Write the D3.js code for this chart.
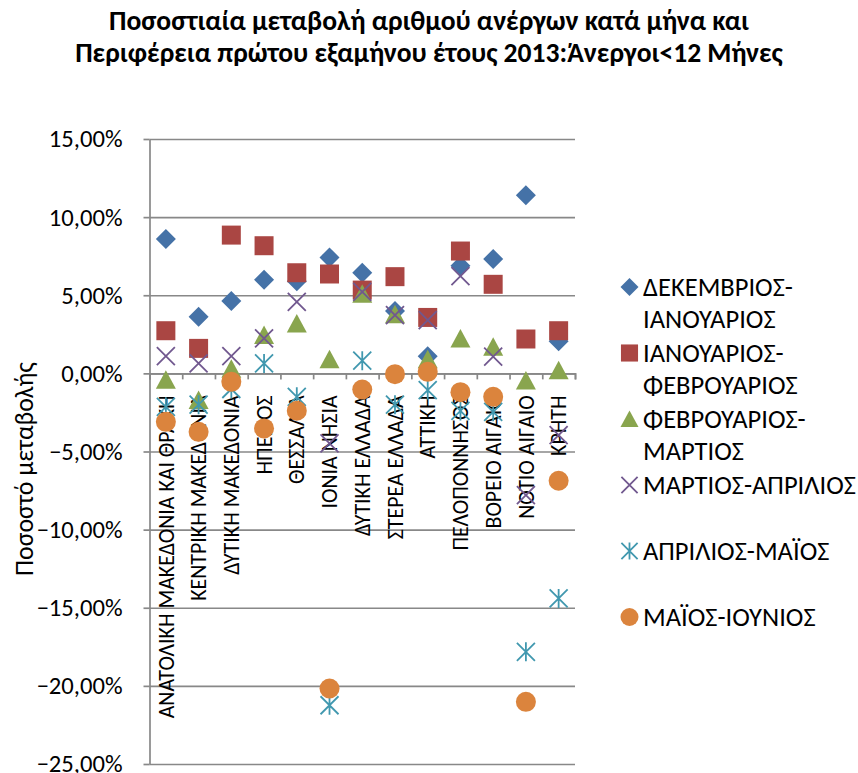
<!DOCTYPE html>
<html><head><meta charset="utf-8">
<script src="https://cdn.jsdelivr.net/npm/d3@7"></script>
<style>
html,body{margin:0;padding:0;background:#fff;}
text{font-family:Carlito,Calibri,"Noto Sans",sans-serif;fill:#000;}
</style></head>
<body>
<svg id="chart" width="858" height="773"></svg>
<script>
// ---- data ----
const titleLines = ["Ποσοστιαία μεταβολή αριθμού ανέργων κατά μήνα και", "Περιφέρεια πρώτου εξαμήνου έτους 2013:Άνεργοι<12 Μήνες"];
const yAxisTitle = "Ποσοστό μεταβολής";
const categories = ["ΑΝΑΤΟΛΙΚΗ ΜΑΚΕΔΟΝΙΑ ΚΑΙ ΘΡΑΚΗ","ΚΕΝΤΡΙΚΗ ΜΑΚΕΔΟΝΙΑ","ΔΥΤΙΚΗ ΜΑΚΕΔΟΝΙΑ","ΗΠΕΙΡΟΣ","ΘΕΣΣΑΛΙΑ","ΙΟΝΙΑ ΝΗΣΙΑ","ΔΥΤΙΚΗ ΕΛΛΑΔΑ","ΣΤΕΡΕΑ ΕΛΛΑΔΑ","ΑΤΤΙΚΗ","ΠΕΛΟΠΟΝΝΗΣΟΣ","ΒΟΡΕΙΟ ΑΙΓΑΙΟ","ΝΟΤΙΟ ΑΙΓΑΙΟ","ΚΡΗΤΗ"];
const seriesNames = ["ΔΕΚΕΜΒΡΙΟΣ-ΙΑΝΟΥΑΡΙΟΣ","ΙΑΝΟΥΑΡΙΟΣ-ΦΕΒΡΟΥΑΡΙΟΣ","ΦΕΒΡΟΥΑΡΙΟΣ-ΜΑΡΤΙΟΣ","ΜΑΡΤΙΟΣ-ΑΠΡΙΛΙΟΣ","ΑΠΡΙΛΙΟΣ-ΜΑΪΟΣ","ΜΑΪΟΣ-ΙΟΥΝΙΟΣ"];
const legendLines = [["ΔΕΚΕΜΒΡΙΟΣ-","ΙΑΝΟΥΑΡΙΟΣ"],["ΙΑΝΟΥΑΡΙΟΣ-","ΦΕΒΡΟΥΑΡΙΟΣ"],["ΦΕΒΡΟΥΑΡΙΟΣ-","ΜΑΡΤΙΟΣ"],["ΜΑΡΤΙΟΣ-ΑΠΡΙΛΙΟΣ"],["ΑΠΡΙΛΙΟΣ-ΜΑΪΟΣ"],["ΜΑΪΟΣ-ΙΟΥΝΙΟΣ"]];
const decJan = [8.60, 3.62, 4.63, 6.00, 5.90, 7.42, 6.44, 3.99, 1.10, 6.89, 7.32, 11.40, 2.05];
const janFeb = [2.73, 1.60, 8.85, 8.17, 6.44, 6.36, 5.33, 6.19, 3.58, 7.83, 5.70, 2.20, 2.73];
const febMar = [-0.40, -1.70, 0.30, 2.45, 3.20, 0.90, 5.10, 3.78, 0.90, 2.24, 1.70, -0.45, 0.20];
const marApr = [1.10, 0.64, 1.10, 2.24, 4.58, -4.48, 5.22, 3.73, 3.41, 6.23, 1.07, -7.79, -3.95];
const aprMay = [-2.14, -2.00, -1.00, 0.64, -1.50, -21.24, 0.81, -2.00, -1.07, -2.40, -2.46, -17.82, -14.40];
const mayJun = [-3.10, -3.74, -0.54, -3.52, -2.39, -20.17, -1.03, -0.05, 0.10, -1.20, -1.50, -21.02, -6.87];
const yTicks = [-25, -20, -15, -10, -5, 0, 5, 10, 15];
const seriesValues = [decJan, janFeb, febMar, marApr, aprMay, mayJun];

// ---- styles ----
const colors = ["#4572A7", "#AA4643", "#89A54E", "#71588F", "#4198AF", "#DB843D"];
const shapes = ["diamond", "square", "triangle", "x", "star", "circle"];
const gridColor = "#888888";

const svg = d3.select("#chart");
const M = {left: 149.5, right: 575, top: 139, bottom: 764};
const x = d3.scaleBand().domain(categories).range([M.left, M.right]).padding(0);
const xi = d3.scaleLinear().domain([0, categories.length]).range([M.left, M.right]);
const y = d3.scaleLinear().domain([-25, 15]).range([M.bottom, M.top]);
const loc = d3.formatLocale({decimal: ",", thousands: ".", grouping: [3], currency: ["", "€"]});
const fmt = v => loc.format(".2f")(v) + "%";

function fitGroup(sel, refNode, target) {
  const w = refNode.getComputedTextLength();
  const fs = parseFloat(d3.select(refNode).style("font-size"));
  sel.style("font-size", (fs * target / w) + "px");
}

// gridlines
const grid = svg.append("g").attr("transform", `translate(${M.left},0)`)
  .call(d3.axisLeft(y).tickValues(yTicks).tickSize(-(M.right - M.left)).tickFormat(""));
grid.select(".domain").remove();
grid.selectAll("line").attr("stroke", gridColor).attr("stroke-width", 1.7);

// y axis with labels
const yAx = svg.append("g").attr("transform", `translate(${M.left},0)`)
  .call(d3.axisLeft(y).tickValues(yTicks).tickSize(6).tickSizeOuter(0).tickPadding(21).tickFormat(fmt));
yAx.select(".domain").attr("stroke", gridColor).attr("stroke-width", 1.7);
yAx.selectAll("line").attr("stroke", gridColor).attr("stroke-width", 1.7);
const yLabels = yAx.selectAll("text").attr("font-family", null).style("font-size", "20px").attr("fill", "#000");
fitGroup(yLabels, yLabels.filter(d => d === -10).node(), 86);

// category axis at 0 (ticks between categories)
const xAx = svg.append("g").attr("transform", `translate(0,${y(0)})`)
  .call(d3.axisBottom(xi).tickValues(d3.range(categories.length + 1)).tickSize(6).tickFormat(""));
xAx.select(".domain").attr("stroke", gridColor).attr("stroke-width", 1.7);
xAx.selectAll("line").attr("stroke", gridColor).attr("stroke-width", 1.7);

// category labels
const catLabels = svg.append("g").selectAll("text").data(categories).join("text")
  .attr("transform", d => `translate(${x(d) + x.bandwidth() / 2},${y(0) + 22}) rotate(-90)`)
  .attr("text-anchor", "end").attr("dy", "0.35em")
  .style("font-size", "18px").text(d => d);
fitGroup(catLabels, catLabels.filter((d, i) => i === 0).node(), 323);

// marker paths
function markerPath(shape, s) {
  const p = d3.path();
  switch (shape) {
    case "diamond": p.moveTo(0, -10*s); p.lineTo(10*s, 0); p.lineTo(0, 10*s); p.lineTo(-10*s, 0); p.closePath(); break;
    case "square": p.rect(-9.5*s, -9.5*s, 19*s, 19*s); break;
    case "triangle": p.moveTo(0, -9.5*s); p.lineTo(10*s, 9*s); p.lineTo(-10*s, 9*s); p.closePath(); break;
    case "x": p.moveTo(-9*s, -9*s); p.lineTo(9*s, 9*s); p.moveTo(9*s, -9*s); p.lineTo(-9*s, 9*s); break;
    case "star": p.moveTo(-9*s, -9*s); p.lineTo(9*s, 9*s); p.moveTo(9*s, -9*s); p.lineTo(-9*s, 9*s); p.moveTo(0, -9.5*s); p.lineTo(0, 9.5*s); break;
    case "circle": p.arc(0, 0, 10*s, 0, 2 * Math.PI); break;
  }
  return p.toString();
}
function styleMarker(sel, i) {
  const line = shapes[i] === "x" || shapes[i] === "star";
  sel.attr("fill", line ? "none" : colors[i])
     .attr("stroke", line ? colors[i] : "none")
     .attr("stroke-width", line ? 1.8 : 0);
}

// series
seriesValues.forEach((vals, i) => {
  svg.append("g").selectAll("path").data(vals).join("path")
    .attr("transform", (d, j) => `translate(${x(categories[j]) + x.bandwidth() / 2},${y(d)})`)
    .attr("d", markerPath(shapes[i], 1))
    .call(styleMarker, i);
});

// legend
const legY = [287, 353, 419, 485, 551, 617];
const leg = svg.append("g");
const legTexts = [];
legendLines.forEach((lines, i) => {
  leg.append("path").attr("transform", `translate(629.5,${legY[i]})`)
    .attr("d", markerPath(shapes[i], 0.9)).call(styleMarker, i);
  lines.forEach((t, k) => {
    legTexts.push(leg.append("text").attr("x", 643).attr("y", legY[i] + k * 32)
      .attr("dy", "0.35em").style("font-size", "20px").text(t).node());
  });
});
fitGroup(d3.selectAll(legTexts), legTexts[6], 213);

// y axis title
const yt = svg.append("text").attr("transform", `translate(24,469) rotate(-90)`)
  .attr("text-anchor", "middle").attr("dy", "0.35em").style("font-size", "20px").text(yAxisTitle);
fitGroup(yt, yt.node(), 214);

// chart title
const tt = svg.append("g").selectAll("text").data(titleLines).join("text")
  .attr("x", 429).attr("y", (d, i) => 30 + i * 32).attr("text-anchor", "middle")
  .style("font-weight", "bold").style("font-size", "20px").text(d => d);
fitGroup(tt, tt.filter((d, i) => i === 1).node(), 708);
</script>
</body></html>
